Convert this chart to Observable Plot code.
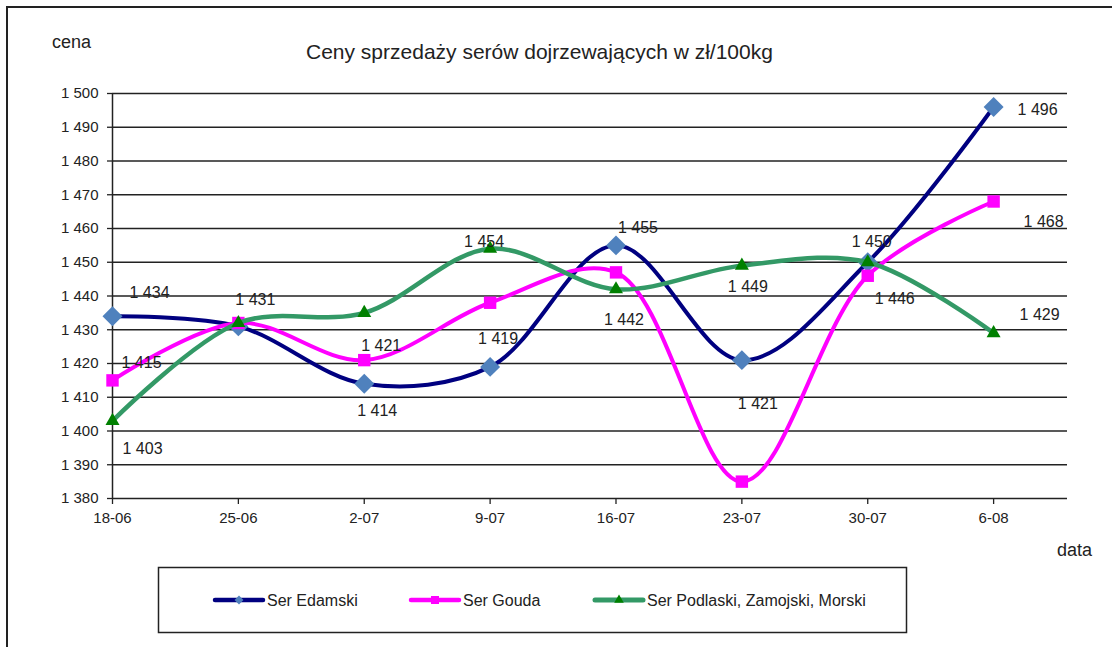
<!DOCTYPE html>
<html>
<head>
<meta charset="utf-8">
<script src="https://cdn.jsdelivr.net/npm/d3@7"></script>
<script src="https://cdn.jsdelivr.net/npm/@observablehq/plot@0.6"></script>
<style>
  html, body { margin: 0; padding: 0; background: #fff; }
  #wrap { position: relative; width: 1112px; height: 647px; overflow: hidden; font-family: "Liberation Sans", Arial, sans-serif; color: #222; }
  #frame { position: absolute; left: 6px; top: 6px; width: 1120px; height: 700px; border-top: 2px solid #222; border-left: 2px solid #222; }
  .lbl { position: absolute; white-space: nowrap; line-height: 1; }
  #chart { position: absolute; left: 0; top: 0; }
  #legend { position: absolute; left: 0; top: 0; }
</style>
</head>
<body>
<div id="wrap">
  <div id="frame"></div>
  <div id="chart"></div>
  <div class="lbl" style="left:52px; top:33px; font-size:18px;">cena</div>
  <div class="lbl" style="left:306px; top:41px; font-size:21px;">Ceny sprzedaży serów dojrzewających w zł/100kg</div>
  <div class="lbl" style="left:1057px; top:541px; font-size:18px;">data</div>
  <svg id="legend" width="1112" height="647"></svg>
</div>
<script>
// ---- data ----
const dates = ["18-06", "25-06", "2-07", "9-07", "16-07", "23-07", "30-07", "6-08"];
const seriesNames = ["Ser Edamski", "Ser Gouda", "Ser Podlaski, Zamojski, Morski"];
const edamski  = [1434, 1431, 1414, 1419, 1455, 1421, 1450, 1496];
const gouda    = [1415, 1432, 1421, 1438, 1447, 1385, 1446, 1468];
const podlaski = [1403, 1432, 1435, 1454, 1442, 1449, 1450, 1429];
const yTicks = [1380, 1390, 1400, 1410, 1420, 1430, 1440, 1450, 1460, 1470, 1480, 1490, 1500];

// which points carry a value label: [series index, point index, dx, dy]
const labelPlacement = [
  [0, 0, 37, -23], [1, 0, 29, -18], [2, 0, 30, 28],
  [0, 1, 17, -27],
  [1, 2, 17, -14], [0, 2, 13, 27],
  [2, 3, -6, -7], [0, 3, 8, -28],
  [0, 4, 22, -18], [2, 4, 8, 31],
  [2, 5, 6, 21], [0, 5, 16, 44],
  [0, 6, 4, -20], [1, 6, 27, 23],
  [0, 7, 44, 3], [1, 7, 50, 20], [2, 7, 46, -18]
];

// ---- styles ----
const values = [edamski, gouda, podlaski];
const lineColors = ["#000080", "#FF00FF", "#339966"];
const markerColors = ["#4F81BD", "#FF00FF", "#008000"];
const symbols = ["diamond2", "square", "triangle"];
const symbolR = [9, 7, 5.2];
const lineWidths = [4, 4, 4.5];

const fmt = d3.formatLocale({decimal: ",", thousands: " ", grouping: [3], currency: ["", ""]}).format(",d");

const rows = values.flatMap((arr, s) => arr.map((v, i) => ({series: seriesNames[s], s, i, v})));

const seriesMarks = seriesNames.flatMap((name, s) => {
  const d = rows.filter(r => r.s === s);
  return [
    Plot.line(d, {x: "i", y: "v", stroke: lineColors[s], strokeWidth: lineWidths[s], curve: "catmull-rom"}),
    Plot.dot(d, {x: "i", y: "v", symbol: symbols[s], r: symbolR[s], fill: markerColors[s], stroke: "none"})
  ];
});

const labelMarks = labelPlacement.map(([s, i, dx, dy]) =>
  Plot.text([{i, v: values[s][i]}], {x: "i", y: "v", text: d => fmt(d.v), dx, dy, fontSize: 16, fill: "#222"})
);

const chart = Plot.plot({
  width: 1112,
  height: 647,
  marginLeft: 112,
  marginRight: 45,
  marginTop: 93,
  marginBottom: 149,
  x: {type: "linear", domain: [0, 7.587], axis: null},
  y: {domain: [1380, 1500], axis: null},
  style: {fontFamily: "'Liberation Sans', Arial, sans-serif", background: "transparent", color: "#222"},
  marks: [
    Plot.ruleY(yTicks.slice(1), {stroke: "#222", strokeWidth: 1.3}),
    Plot.axisY({ticks: yTicks, tickFormat: fmt, tickSize: 5, tickPadding: 9, fontSize: 15, label: null, stroke: "#222", strokeWidth: 1.3}),
    Plot.axisX({ticks: d3.range(dates.length), tickFormat: i => dates[i], tickSize: 6, tickPadding: 8, fontSize: 15, label: null, stroke: "#222", strokeWidth: 1.3}),
    Plot.ruleY([1380], {stroke: "#222", strokeWidth: 1.5}),
    Plot.ruleX([0], {stroke: "#222", strokeWidth: 1.5}),
    ...seriesMarks,
    ...labelMarks
  ]
});
document.getElementById("chart").appendChild(chart);

// ---- legend ----
const lg = d3.select("#legend");
lg.append("rect").attr("x", 158.5).attr("y", 567.5).attr("width", 748).attr("height", 65)
  .attr("fill", "none").attr("stroke", "#222").attr("stroke-width", 1.5);
const legendX = [215, 411, 595];
const legendSym = [d3.symbolDiamond2, d3.symbolSquare, d3.symbolTriangle];
const legendSymSize = [50, 64, 40];
seriesNames.forEach((name, s) => {
  const x0 = legendX[s], y0 = 600;
  lg.append("line").attr("x1", x0).attr("x2", x0 + 48).attr("y1", y0).attr("y2", y0)
    .attr("stroke", lineColors[s]).attr("stroke-width", lineWidths[s] + 0.5).attr("stroke-linecap", "round");
  lg.append("path").attr("d", d3.symbol(legendSym[s], legendSymSize[s])())
    .attr("transform", `translate(${x0 + 24},${y0})`).attr("fill", markerColors[s]);
  lg.append("text").attr("x", x0 + 52).attr("y", y0).attr("dy", "0.35em")
    .attr("font-size", 16).attr("fill", "#222").attr("font-family", "'Liberation Sans', Arial, sans-serif").text(name);
});
</script>
</body>
</html>
